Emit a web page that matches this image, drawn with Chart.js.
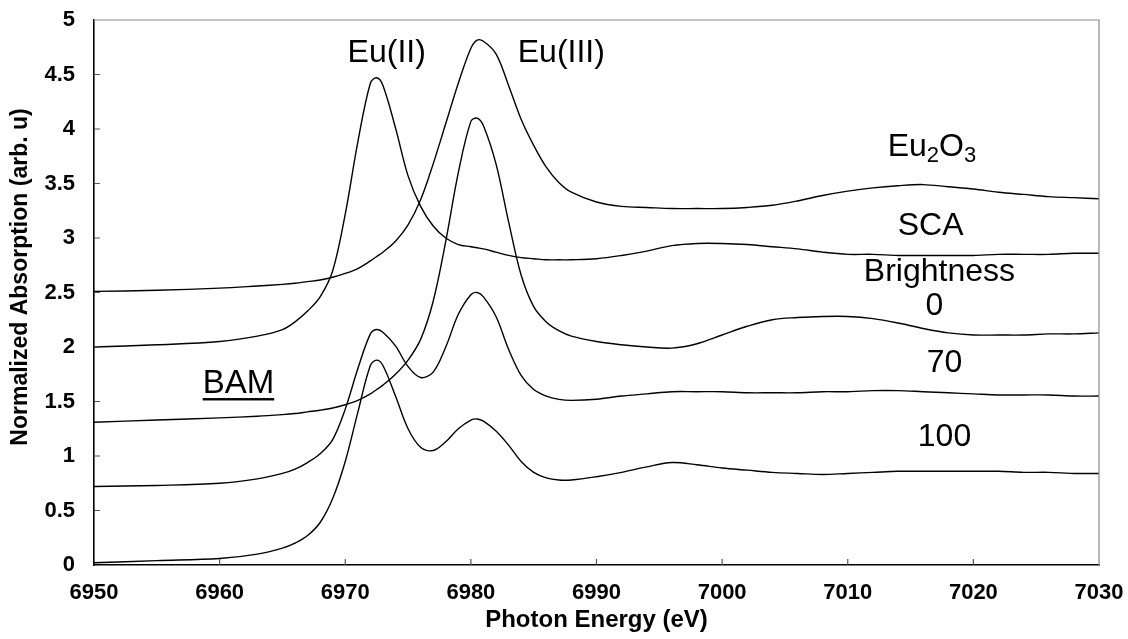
<!DOCTYPE html>
<html><head><meta charset="utf-8">
<script src="https://cdn.jsdelivr.net/npm/chart.js@4/dist/chart.umd.min.js"></script>
<style>html,body{margin:0;padding:0;background:#fff}#wrap{width:1128px;height:639px;position:relative}</style>
</head><body><div id="wrap"><canvas id="c"></canvas></div>
<script>
// Photon energy grid (eV)
const energy = [6950,6955,6960,6963,6965,6966,6967,6968,6969,6970,6971,6972,6972.5,6973,6974,6975,6976,6977,6978,6979,6980,6980.5,6981,6982,6983,6984,6985,6986,6987,6988,6990,6992,6994,6996,6998,7000,7002,7004,7006,7008,7010,7012,7014,7016,7018,7020,7022,7024,7026,7028,7030];
// Eu2O3 reference (offset)
const eu2o3 = [2.51,2.52,2.54,2.56,2.575,2.585,2.60,2.615,2.64,2.675,2.72,2.79,2.83,2.87,2.97,3.12,3.35,3.68,4.05,4.42,4.74,4.815,4.805,4.69,4.40,4.09,3.85,3.65,3.51,3.42,3.33,3.29,3.28,3.27,3.27,3.27,3.28,3.30,3.34,3.39,3.43,3.46,3.48,3.49,3.47,3.45,3.42,3.40,3.38,3.37,3.36];
// SCA
const sca = [2.00,2.02,2.05,2.10,2.16,2.23,2.33,2.46,2.70,3.22,3.88,4.42,4.47,4.40,4.01,3.57,3.29,3.11,3.00,2.94,2.92,2.91,2.90,2.87,2.84,2.82,2.81,2.80,2.80,2.80,2.81,2.84,2.88,2.93,2.95,2.95,2.94,2.92,2.90,2.87,2.85,2.85,2.84,2.84,2.84,2.84,2.85,2.85,2.85,2.86,2.86];
// BAM, brightness 0
const bam0 = [1.31,1.33,1.35,1.365,1.38,1.39,1.405,1.42,1.44,1.47,1.51,1.57,1.61,1.65,1.75,1.88,2.07,2.42,2.97,3.60,4.07,4.10,4.03,3.68,3.15,2.66,2.37,2.23,2.15,2.10,2.05,2.02,2.00,1.99,2.03,2.11,2.19,2.25,2.27,2.28,2.28,2.26,2.22,2.17,2.13,2.11,2.11,2.11,2.12,2.12,2.13];
// BAM, brightness 70
const bam70 = [0.72,0.73,0.75,0.79,0.84,0.88,0.94,1.02,1.15,1.43,1.80,2.12,2.16,2.135,2.01,1.82,1.72,1.77,2.00,2.30,2.48,2.50,2.46,2.28,1.98,1.74,1.61,1.55,1.52,1.51,1.52,1.55,1.57,1.59,1.59,1.59,1.58,1.58,1.58,1.59,1.59,1.60,1.60,1.59,1.58,1.57,1.56,1.56,1.56,1.55,1.55];
// BAM, brightness 100
const bam100 = [0.02,0.04,0.06,0.10,0.155,0.20,0.27,0.39,0.61,0.95,1.40,1.83,1.88,1.83,1.55,1.25,1.08,1.05,1.13,1.25,1.33,1.34,1.32,1.23,1.10,0.95,0.85,0.80,0.78,0.78,0.81,0.85,0.90,0.94,0.92,0.89,0.87,0.85,0.84,0.83,0.84,0.85,0.86,0.86,0.86,0.86,0.86,0.85,0.85,0.84,0.84];
// Text labels placed in data coordinates
const labelTexts = ['Eu(II)','Eu(III)','SCA','Brightness','0','70','100'];
const labelX = [6973.3,6987.2,7016.6,7017.3,7016.9,7017.7,7017.7];
const labelY = [4.70,4.70,3.11,2.69,2.37,1.85,1.17];

const FONT = "'Liberation Sans', Arial, sans-serif";
const series = [eu2o3, sca, bam0, bam70, bam100];
const names = ['Eu2O3','SCA','Brightness 0','Brightness 70','Brightness 100'];

const decor = {
  id: 'decor',
  afterDraw(chart) {
    const ctx = chart.ctx, a = chart.chartArea, xs = chart.scales.x, ys = chart.scales.y;
    ctx.save();
    // gray top/right frame
    ctx.strokeStyle = '#8c8c8c'; ctx.lineWidth = 1.2;
    ctx.beginPath();
    ctx.moveTo(a.left, a.top); ctx.lineTo(a.right, a.top); ctx.lineTo(a.right, a.bottom);
    ctx.stroke();
    // inner tick marks
    ctx.strokeStyle = '#555'; ctx.lineWidth = 1.2;
    ctx.beginPath();
    xs.ticks.forEach(t => { if (t.value > xs.min && t.value < xs.max) { const p = xs.getPixelForValue(t.value); ctx.moveTo(p, a.bottom); ctx.lineTo(p, a.bottom - 6); } });
    ys.ticks.forEach(t => { if (t.value > ys.min && t.value < ys.max) { const p = ys.getPixelForValue(t.value); ctx.moveTo(a.left, p); ctx.lineTo(a.left + 6, p); } });
    ctx.stroke();
    // annotations
    ctx.fillStyle = '#000';
    ctx.font = '32px ' + FONT;
    ctx.textAlign = 'center'; ctx.textBaseline = 'middle';
    labelTexts.forEach((t, i) => ctx.fillText(t, xs.getPixelForValue(labelX[i]), ys.getPixelForValue(labelY[i])));
    // Eu2O3 with subscripts
    const cx = xs.getPixelForValue(7016.7), cy = ys.getPixelForValue(3.83);
    const parts = [['Eu',32,0],['2',22,8],['O',32,0],['3',22,8]];
    let w = 0;
    parts.forEach(p => { ctx.font = p[1] + 'px ' + FONT; w += ctx.measureText(p[0]).width; });
    let x0 = cx - w / 2;
    ctx.textAlign = 'left';
    parts.forEach(p => { ctx.font = p[1] + 'px ' + FONT; ctx.fillText(p[0], x0, cy + p[2]); x0 += ctx.measureText(p[0]).width; });
    // BAM underlined
    ctx.font = '33px ' + FONT; ctx.textAlign = 'center';
    const bx = xs.getPixelForValue(6961.5), by = ys.getPixelForValue(1.66);
    ctx.fillText('BAM', bx, by);
    const bw = ctx.measureText('BAM').width;
    ctx.fillRect(bx - bw / 2, by + 14, bw, 2.4);
    // y title
    ctx.font = 'bold 23px ' + FONT;
    ctx.translate(21, 277); ctx.rotate(-Math.PI / 2);
    ctx.fillText('Normalized Absorption (arb. u)', 0, 0);
    ctx.restore();
  }
};

new Chart(document.getElementById('c'), {
  type: 'line',
  data: {
    datasets: series.map((s, i) => ({
      label: names[i],
      data: energy.map((e, j) => ({x: e, y: s[j]})),
      borderColor: '#000', borderWidth: 1.4, pointRadius: 0,
      tension: 0.35, fill: false
    }))
  },
  options: {
    responsive: true, maintainAspectRatio: false, animation: false,
    layout: {padding: {left: 0, top: 20, right: 29, bottom: 0}},
    plugins: {legend: {display: false}, tooltip: {enabled: false}},
    scales: {
      x: {
        type: 'linear', min: 6950, max: 7030,
        ticks: {stepSize: 10, color: '#000', font: {family: FONT, size: 22, weight: 'bold'}, padding: 15, callback: v => String(v)},
        grid: {drawOnChartArea: false, drawTicks: false},
        border: {color: '#000', width: 1.6},
        title: {display: true, text: 'Photon Energy (eV)', color: '#000', font: {family: FONT, size: 24, weight: 'bold'}, padding: {top: 0, bottom: 4}},
        afterFit: s => { s.height = 74; s.paddingLeft = 0; s.paddingRight = 0; }
      },
      y: {
        min: 0, max: 5,
        ticks: {stepSize: 0.5, color: '#000', font: {family: FONT, size: 22, weight: 'bold'}, padding: 19, callback: v => String(v)},
        grid: {drawOnChartArea: false, drawTicks: false},
        border: {color: '#000', width: 1.6},
        afterFit: s => { s.width = 94; s.paddingTop = 0; s.paddingBottom = 0; }
      }
    }
  },
  plugins: [decor]
});
</script></body></html>
